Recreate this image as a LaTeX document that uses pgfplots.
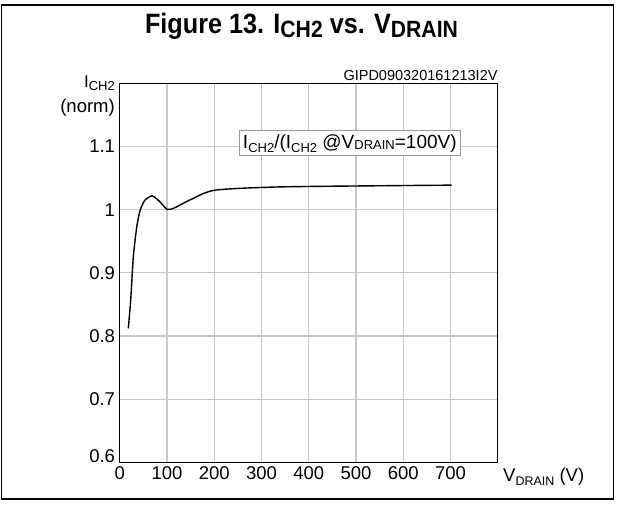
\documentclass[border=0pt]{standalone}
\usepackage{fontspec}
\setmainfont{Liberation Sans}
\newfontfamily\titlefont[FakeStretch=0.9]{Liberation Sans}
\usepackage{pgfplots}
\pgfplotsset{compat=1.18}
\begin{document}
\begin{tikzpicture}
\path[use as bounding box] (0pt,0pt) rectangle (617pt,504pt);
\draw[line width=1.6pt] (1.5pt,5pt) rectangle (613.3pt,499pt);
\node[anchor=base, inner sep=0pt] at (301.5pt,470.7pt) {\titlefont\bfseries\fontsize{28}{28}\selectfont Figure 13. I\raisebox{-4pt}{\fontsize{23.5}{23.5}\selectfont CH2} vs. V\raisebox{-4pt}{\fontsize{23.5}{23.5}\selectfont DRAIN}};
\begin{axis}[
  at={(119.7pt,41.7pt)}, anchor=south west,
  width=378pt, height=379pt, scale only axis,
  xmin=0, xmax=800, ymin=0.6, ymax=1.2,
  xtick={0,100,200,300,400,500,600,700},
  xticklabels={0,100,200,300,400,500,600,700},
  ytick={0.6,0.7,0.8,0.9,1,1.1},
  yticklabels={{\raisebox{12pt}{0.6}},0.7,0.8,0.9,1,1.1},
  grid=major,
  major grid style={draw=black!22, line width=1.1pt},
  major tick length=0pt,
  axis line style={line width=1.4pt},
  tick label style={font=\fontsize{18.5}{18.5}\selectfont, inner sep=0pt},
  xticklabel style={yshift=-3.8pt},
  yticklabel style={xshift=-4.5pt},
  clip=false,
]
\addplot[black, line width=1.4pt, smooth, tension=0.4] coordinates {
(18.2,0.812) (23.3,0.857) (28.8,0.925) (36,0.972) (43,0.9985) (53.5,1.015)
(69,1.0218) (85.3,1.0123) (100.7,1.0003) (115,1.0025) (150,1.0158)
(201.7,1.0308) (346,1.0361) (702.6,1.0388)
};
\node[draw=black!40, fill=white, line width=0.9pt, inner sep=3.5pt, font=\fontsize{19}{19}\selectfont] at (axis cs:487,1.1052)
 {I\raisebox{-4pt}{\fontsize{13}{13}\selectfont CH2}/(I\raisebox{-4pt}{\fontsize{13}{13}\selectfont CH2} @V\raisebox{-1pt}{\fontsize{13}{13}\selectfont DRAIN}=100V)};
\end{axis}
\node[anchor=base east, inner sep=0pt, font=\fontsize{14.5}{14.5}\selectfont] at (497.7pt,423pt) {GIPD090320161213I2V};
\node[anchor=base east, inner sep=0pt, font=\fontsize{17}{17}\selectfont] at (115pt,416pt) {I\raisebox{-3pt}{\fontsize{13}{13}\selectfont CH2}};
\node[anchor=base east, inner sep=0pt, font=\fontsize{18.5}{18.5}\selectfont] at (115pt,391pt) {(norm)};
\node[anchor=base west, inner sep=0pt, font=\fontsize{18.5}{18.5}\selectfont] at (503pt,23pt) {V\raisebox{-4pt}{\fontsize{12.5}{12.5}\selectfont DRAIN} (V)};
\end{tikzpicture}
\end{document}
